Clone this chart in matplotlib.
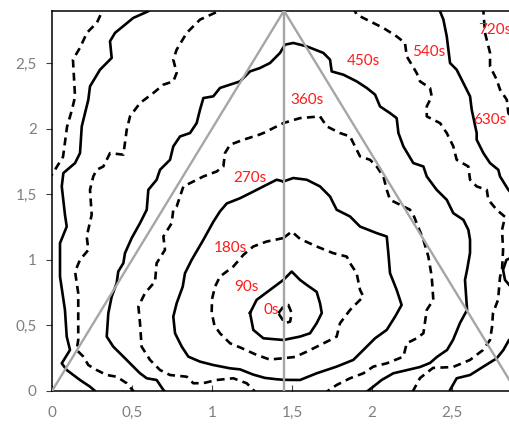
import matplotlib.pyplot as plt

# Isochrone traces, one pair of lists per curve.
# Curves that leave the frame are split into separate parts.
t0_x = [1.415, 1.446, 1.477, 1.498, 1.488, 1.456, 1.435, 1.415]
t0_y = [0.593, 0.644, 0.656, 0.593, 0.529, 0.517, 0.555, 0.593]

t90_x = [1.2375, 1.279, 1.3625, 1.446, 1.498, 1.55, 1.592, 1.654, 1.675, 1.686,
         1.654, 1.6125, 1.55, 1.446, 1.321, 1.258, 1.2375]
t90_y = [0.595, 0.695, 0.771, 0.847, 0.911, 0.847, 0.809, 0.756, 0.669, 0.595,
         0.517, 0.440, 0.415, 0.389, 0.402, 0.466, 0.595]

t180_x = [1.446, 1.342, 1.258, 1.196, 1.133, 1.05, 1.019, 1.0, 0.998, 1.015,
          1.05, 1.1125, 1.18, 1.27, 1.36, 1.446, 1.52, 1.592, 1.675, 1.74,
          1.779, 1.8, 1.8625, 1.904, 1.946, 1.925, 1.904, 1.8625, 1.842, 1.758,
          1.654, 1.55, 1.498, 1.446]
t180_y = [1.166, 1.140, 1.102, 1.038, 0.949, 0.873, 0.796, 0.70, 0.60, 0.50,
          0.44, 0.364, 0.33, 0.28, 0.24, 0.25, 0.26, 0.30, 0.35, 0.39,
          0.415, 0.517, 0.618, 0.669, 0.720, 0.771, 0.898, 0.975, 1.025, 1.051,
          1.102, 1.16, 1.216, 1.166]

t270_x = [1.446, 1.404, 1.321, 1.2375, 1.175, 1.092, 1.05, 1.008, 0.946, 0.873,
          0.831, 0.817, 0.779, 0.758, 0.769, 0.811, 0.852, 0.925, 1.008, 1.1125,
          1.175, 1.258, 1.33, 1.40, 1.45, 1.55, 1.654, 1.779, 1.883, 1.946,
          2.019, 2.092, 2.144, 2.185, 2.154, 2.1125, 2.102, 2.092, 2.029, 1.925,
          1.8625, 1.779, 1.7375, 1.675, 1.592, 1.508, 1.446]
t270_y = [1.598, 1.611, 1.560, 1.508, 1.47, 1.43, 1.37, 1.29, 1.153, 1.0,
          0.898, 0.796, 0.669, 0.567, 0.440, 0.338, 0.262, 0.224, 0.198, 0.173,
          0.165, 0.125, 0.10, 0.09, 0.085, 0.084, 0.135, 0.186, 0.237, 0.313,
          0.402, 0.466, 0.567, 0.656, 0.771, 0.898, 1.051, 1.178, 1.204, 1.254,
          1.331, 1.382, 1.483, 1.560, 1.611, 1.624, 1.598]

t360_x = [1.29, 1.258, 1.217, 1.133, 1.029, 0.946, 0.883, 0.842, 0.7375, 0.675,
          0.6125, 0.560, 0.55, 0.540, 0.581, 0.644, 0.654, 0.706, 0.696, 0.748,
          0.758, 0.779, 0.8, 0.821, 0.8625, 0.946, 1.029, 1.071, 1.081, 1.1125,
          1.196, 1.294, 1.321, 1.446, 1.55, 1.675, 1.717, 1.8, 1.8625, 1.904,
          1.925, 1.9875, 2.029, 2.071, 2.092, 2.1125, 2.154, 2.2375, 2.258, 2.321,
          2.352, 2.373, 2.383, 2.342, 2.321, 2.279, 2.217, 2.196, 2.092, 2.008,
          1.946, 1.8625, 1.779, 1.717, 1.69]
t360_y = [-0.03, 0.008, 0.059, 0.097, 0.084, 0.06, 0.059, 0.109, 0.122, 0.160,
          0.237, 0.338, 0.517, 0.644, 0.746, 0.835, 0.975, 1.076, 1.178, 1.280,
          1.382, 1.407, 1.483, 1.560, 1.585, 1.636, 1.674, 1.712, 1.814, 1.878,
          1.916, 1.954, 1.967, 2.043, 2.081, 2.094, 2.018, 1.967, 1.941, 1.840,
          1.789, 1.763, 1.712, 1.636, 1.534, 1.458, 1.433, 1.382, 1.344, 1.153,
          1.025, 0.873, 0.695, 0.618, 0.440, 0.402, 0.364, 0.262, 0.211, 0.186,
          0.135, 0.097, 0.046, -0.005, -0.03]

t450_x = [0.72, 0.696, 0.654, 0.592, 0.55, 0.508, 0.446, 0.383, 0.342, 0.352,
          0.373, 0.404, 0.414, 0.446, 0.456, 0.498, 0.55, 0.592, 0.602, 0.654,
          0.675, 0.7375, 0.758, 0.8, 0.8625, 0.904, 0.925, 0.946, 1.008, 1.05,
          1.175, 1.2375, 1.3, 1.3625, 1.425, 1.456, 1.508, 1.592, 1.696, 1.7375,
          1.748, 1.821, 1.904, 1.967, 2.019, 2.05, 2.1125, 2.154, 2.165, 2.196,
          2.258, 2.321, 2.342, 2.404, 2.467, 2.508, 2.571, 2.602, 2.6125, 2.6125,
          2.594, 2.581, 2.594, 2.55, 2.506, 2.469, 2.406, 2.3625, 2.3, 2.22,
          2.133, 2.06, 2.008, 1.967, 1.95]
t450_y = [-0.02, 0.008, 0.084, 0.097, 0.135, 0.186, 0.262, 0.338, 0.415, 0.593,
          0.720, 0.822, 0.911, 0.975, 1.051, 1.166, 1.280, 1.382, 1.534, 1.611,
          1.687, 1.763, 1.865, 1.941, 1.967, 2.043, 2.145, 2.234, 2.247, 2.311,
          2.361, 2.437, 2.463, 2.501, 2.578, 2.641, 2.654, 2.628, 2.578, 2.527,
          2.437, 2.412, 2.361, 2.311, 2.260, 2.170, 2.119, 2.081, 1.967, 1.865,
          1.738, 1.712, 1.636, 1.534, 1.458, 1.356, 1.305, 1.229, 1.153, 1.053,
          0.924, 0.847, 0.618, 0.519, 0.389, 0.313, 0.260, 0.214, 0.183, 0.16,
          0.135, 0.084, 0.033, -0.005, -0.02]

t540a_x = [0.52, 0.508, 0.467, 0.404, 0.342, 0.279, 0.227, 0.196, 0.154, 0.164,
           0.164, 0.164, 0.144, 0.175, 0.227, 0.217, 0.248, 0.2375, 0.258, 0.279,
           0.321, 0.3625, 0.446, 0.467, 0.4875, 0.55, 0.633, 0.696, 0.758, 0.779,
           0.758, 0.779, 0.842, 0.925, 1.040, 1.06]
t540a_y = [-0.02, 0.0, 0.059, 0.109, 0.122, 0.160, 0.198, 0.262, 0.313, 0.389,
           0.593, 0.746, 0.911, 1.0, 1.076, 1.178, 1.344, 1.534, 1.636, 1.687,
           1.712, 1.814, 1.802, 1.992, 2.094, 2.196, 2.272, 2.336, 2.361, 2.425,
           2.527, 2.603, 2.731, 2.832, 2.896, 2.93]
t540b_x = [1.88, 1.904, 1.9875, 2.071, 2.154, 2.206, 2.217, 2.279, 2.3, 2.3625,
           2.373, 2.342, 2.342, 2.425, 2.467, 2.508, 2.529, 2.602, 2.6125, 2.654,
           2.717, 2.727, 2.779, 2.831, 2.8125, 2.819, 2.8125, 2.8, 2.7875, 2.756,
           2.75, 2.7375, 2.694, 2.6125, 2.506, 2.381, 2.3, 2.256, 2.25]
t540b_y = [2.93, 2.870, 2.819, 2.768, 2.704, 2.654, 2.552, 2.425, 2.361, 2.311,
           2.246, 2.170, 2.094, 2.043, 1.967, 1.865, 1.763, 1.712, 1.611, 1.560,
           1.534, 1.458, 1.382, 1.328, 1.229, 1.076, 0.924, 0.870, 0.695, 0.595,
           0.489, 0.389, 0.313, 0.237, 0.183, 0.176, 0.099, 0.0, -0.02]

t630a_x = [0.62, 0.602, 0.508, 0.394, 0.3625, 0.373, 0.3, 0.2375, 0.227, 0.186,
           0.175, 0.144, 0.071, 0.061, 0.081, 0.092, 0.05, 0.05, 0.081, 0.092,
           0.1125, 0.061, 0.092, 0.175, 0.2375, 0.269, 0.28]
t630a_y = [2.93, 2.896, 2.845, 2.731, 2.667, 2.540, 2.450, 2.323, 2.221, 2.018,
           1.814, 1.738, 1.662, 1.560, 1.344, 1.254, 1.127, 0.873, 0.618, 0.415,
           0.313, 0.211, 0.160, 0.084, 0.033, 0.0, -0.02]
t630b_x = [2.42, 2.425, 2.446, 2.467, 2.4875, 2.529, 2.571, 2.6125, 2.623, 2.654,
           2.654, 2.696, 2.7375, 2.789, 2.8, 2.852, 2.95, 2.95, 2.84, 2.819,
           2.831, 2.87, 2.95, 2.95, 2.856, 2.821, 2.779, 2.696, 2.6125, 2.529,
           2.4875, 2.48]
t630b_y = [2.93, 2.896, 2.832, 2.704, 2.501, 2.450, 2.348, 2.247, 2.145, 1.967,
           1.916, 1.814, 1.738, 1.687, 1.636, 1.534, 1.40, 1.06, 1.0, 0.924,
           0.847, 0.79, 0.75, 0.45, 0.389, 0.313, 0.249, 0.186, 0.122, 0.097,
           0.008, -0.02]

t720a_x = [-0.03, 0.0, 0.069, 0.094, 0.125, 0.144, 0.131, 0.175, 0.219, 0.281, 0.3125, 0.33]
t720a_y = [1.61, 1.65, 1.786, 2.015, 2.145, 2.244, 2.527, 2.618, 2.733, 2.809, 2.893, 2.93]
t720b_x = [2.69, 2.696, 2.706, 2.7375, 2.7375, 2.779, 2.8, 2.842, 2.852, 2.9]
t720b_y = [2.93, 2.896, 2.731, 2.578, 2.476, 2.374, 2.298, 2.221, 2.119, 2.05]

# time labels
labels = ['0s', '90s', '180s', '270s', '360s', '450s', '540s', '630s', '720s']
label_x = [1.368, 1.217, 1.1125, 1.24, 1.592, 1.946, 2.352, 2.736, 2.77]
label_y = [0.618, 0.794, 1.092, 1.626, 2.221, 2.519, 2.584, 2.069, 2.756]

# grey guide lines
tri_x = [0.0, 1.45, 2.9]
tri_y = [0.0, 2.9, 0.0]
mid_x = [1.45, 1.45]
mid_y = [0.0, 2.9]

ticks = [0, 0.5, 1, 1.5, 2, 2.5]
tick_labels = ['0', '0,5', '1', '1,5', '2', '2,5']

plt.rcParams['font.family'] = ['Lato', 'DejaVu Sans']

fig = plt.figure(figsize=(5.09, 4.28), dpi=100)
ax = fig.add_axes([52 / 509, 37 / 428, 457 / 509, 380.3 / 428])

solid = dict(color='black', lw=1.9, solid_joinstyle='round', zorder=2)
dashed = dict(color='black', lw=1.9, linestyle=(0, (3, 2)), zorder=2)

ax.plot(t0_x, t0_y, **dashed)
ax.plot(t90_x, t90_y, **solid)
ax.plot(t180_x, t180_y, **dashed)
ax.plot(t270_x, t270_y, **solid)
ax.plot(t360_x, t360_y, **dashed)
ax.plot(t450_x, t450_y, **solid)
ax.plot(t540a_x, t540a_y, **dashed)
ax.plot(t540b_x, t540b_y, **dashed)
ax.plot(t630a_x, t630a_y, **solid)
ax.plot(t630b_x, t630b_y, **solid)
ax.plot(t720a_x, t720a_y, **dashed)
ax.plot(t720b_x, t720b_y, **dashed)

ax.plot(tri_x, tri_y, color='#a6a6a6', lw=1.7, zorder=3)
ax.plot(mid_x, mid_y, color='#a6a6a6', lw=1.7, zorder=3)

for lab, lx, ly in zip(labels, label_x, label_y):
    ax.text(lx, ly, lab, color='#ff1a1a', fontsize=11, ha='center', va='center',
            clip_on=True, zorder=4)

ax.set_xlim(0, 2.856)
ax.set_ylim(0, 2.9)
ax.set_xticks(ticks)
ax.set_xticklabels(tick_labels)
ax.set_yticks(ticks)
ax.set_yticklabels(tick_labels)
ax.tick_params(axis='x', direction='in', length=4, pad=11, colors='#404040',
               labelcolor='#7f7f7f', labelsize=11)
ax.tick_params(axis='y', direction='out', length=4, pad=7, colors='#404040',
               labelcolor='#7f7f7f', labelsize=11)
ax.spines['right'].set_visible(False)
for side in ['left', 'bottom', 'top']:
    ax.spines[side].set_color('black')
    ax.spines[side].set_linewidth(1.1)

plt.savefig('out.png', dpi=100)
